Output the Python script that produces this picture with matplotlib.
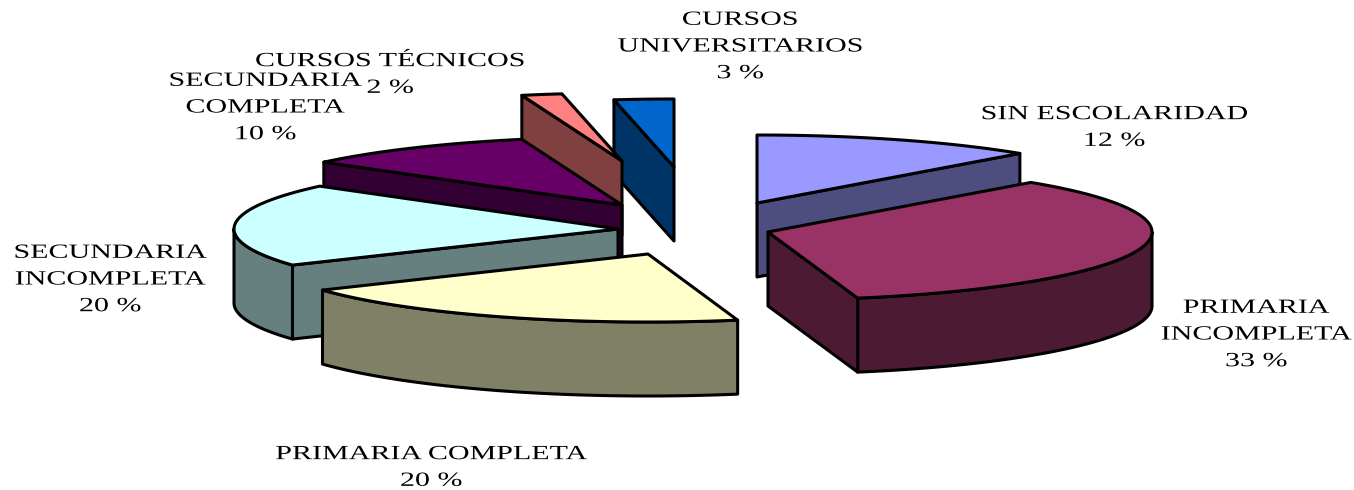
import numpy as np
import matplotlib
matplotlib.use('Agg')
import matplotlib.pyplot as plt
from matplotlib.patches import Polygon
from matplotlib.patheffects import AbstractPathEffect
from matplotlib.transforms import Affine2D

categories = ['SIN ESCOLARIDAD', 'PRIMARIA\nINCOMPLETA', 'PRIMARIA COMPLETA', 'SECUNDARIA\nINCOMPLETA',
              'SECUNDARIA\nCOMPLETA', 'CURSOS TÉCNICOS', 'CURSOS\nUNIVERSITARIOS']
# share of the circle each slice really takes in the picture (the labels are rounded)
shares = [12.0, 34.25, 19.85, 19.75, 9.95, 1.7, 2.5]
pct_labels = ['12 %', '33 %', '20 %', '20 %', '10 %', '2 %', '3 %']

top_colors = ['#9999FF', '#993366', '#FFFFCC', '#CCFFFF', '#660066', '#FF8080', '#0066CC']
side_colors = ['#4D4D80', '#4D1A33', '#808066', '#668080', '#330033', '#804040', '#003366']

# where each exploded slice has its tip, in pixels
tips = [(757, 203), (768, 232), (648, 254), (618, 229), (622, 205), (622, 161), (674, 167)]
label_pos = [(1114, 128), (1256, 335), (431, 468), (110, 280), (265, 108), (390, 75), (740, 47)]
draw_order = [6, 5, 4, 3, 2, 0, 1]
rx, ry, depth = 384, 68, 74


class StretchX(AbstractPathEffect):
    # the reference text is stretched sideways
    def __init__(self, factor):
        super().__init__()
        self.factor = factor

    def draw_path(self, renderer, gc, tpath, affine, rgbFace=None):
        xs = affine.transform(tpath.vertices)[:, 0]
        mid = (xs.min() + xs.max()) / 2
        stretched = affine + Affine2D().translate(-mid, 0).scale(self.factor, 1).translate(mid, 0)
        renderer.draw_path(gc, tpath, stretched, rgbFace)


def rim(tip, a):
    return tip[0] + rx * np.sin(a), tip[1] - ry * np.cos(a)


def face(ax, pts, color):
    ax.add_patch(Polygon(pts, closed=True, facecolor=color, edgecolor='black', linewidth=2.2, joinstyle='round'))


fig = plt.figure(figsize=(13.54, 4.9), dpi=100)
ax = fig.add_axes([0, 0, 1, 1])
ax.set_xlim(0, 1354)
ax.set_ylim(490, 0)
ax.axis('off')

edges = np.deg2rad(np.cumsum([0] + shares) * 3.6)

for i in draw_order:
    a1, a2 = edges[i], edges[i + 1]
    tip = tips[i]
    # front part of the outer wall
    lo, hi = max(a1, np.pi / 2), min(a2, 3 * np.pi / 2)
    if hi > lo:
        arc = [rim(tip, a) for a in np.linspace(lo, hi, 60)]
        face(ax, arc + [(x, y + depth) for x, y in arc[::-1]], side_colors[i])
    # flat cut faces, only those turned to the viewer
    if np.sin(a1) < -1e-6:
        p = rim(tip, a1)
        face(ax, [tip, p, (p[0], p[1] + depth), (tip[0], tip[1] + depth)], side_colors[i])
    if np.sin(a2) > 1e-6:
        p = rim(tip, a2)
        face(ax, [tip, p, (p[0], p[1] + depth), (tip[0], tip[1] + depth)], side_colors[i])
    top = [tip] + [rim(tip, a) for a in np.linspace(a1, a2, 80)]
    face(ax, top, top_colors[i])

for name, pct, pos in zip(categories, pct_labels, label_pos):
    t = ax.text(pos[0], pos[1], name + '\n' + pct, ha='center', va='center', multialignment='center',
                family='Liberation Serif', fontsize=14.5, linespacing=1.55, color='black')
    t.set_path_effects([StretchX(1.49)])

fig.savefig('out.png', dpi=100)
